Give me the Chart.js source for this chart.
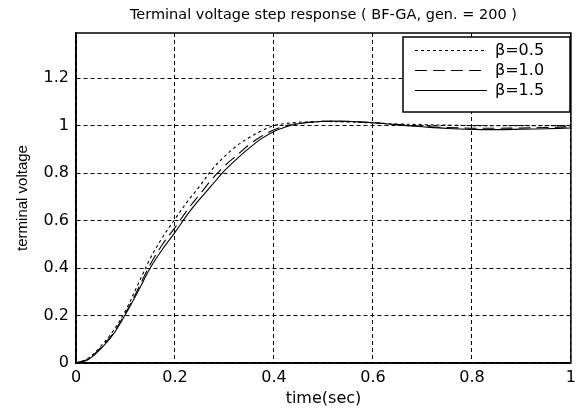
<!DOCTYPE html>
<html>
<head>
<meta charset="utf-8">
<script src="https://cdn.jsdelivr.net/npm/chart.js@4/dist/chart.umd.min.js"></script>
<style>
  html,body{margin:0;padding:0;background:#fff}
  #wrap{width:581px;height:412px}
</style>
</head>
<body>
<div id="wrap"><canvas id="c" width="581" height="412"></canvas></div>
<script>
'use strict';

// step response (time in sec)
const times = [0,0.025,0.05,0.075,0.1,0.125,0.15,0.175,0.2,0.225,0.25,0.275,0.3,0.325,0.35,0.375,0.4,0.425,0.45,0.5,0.55,0.6,0.65,0.7,0.75,0.8,0.85,0.9,0.95,1.0];
const beta05 = [0,0.02,0.07,0.135,0.22,0.33,0.44,0.53,0.606,0.68,0.745,0.815,0.87,0.915,0.95,0.978,1.0,1.009,1.014,1.017,1.015,1.011,1.007,1.004,1.002,1.0,1.0,1.0,1.0,1.0];
const beta10 = [0,0.017,0.065,0.125,0.21,0.31,0.415,0.5,0.57,0.645,0.71,0.775,0.83,0.875,0.92,0.955,0.982,1.0,1.01,1.018,1.017,1.012,1.004,0.997,0.992,0.989,0.989,0.99,0.992,0.995];
const beta15 = [0,0.015,0.06,0.12,0.205,0.3,0.4,0.48,0.55,0.625,0.69,0.75,0.81,0.86,0.905,0.945,0.975,0.995,1.008,1.018,1.018,1.012,1.003,0.995,0.988,0.984,0.983,0.985,0.987,0.99];
const seriesLabels = ['β=0.5','β=1.0','β=1.5'];
const xTicks = [0,0.2,0.4,0.6,0.8,1];
const yTicks = [0,0.2,0.4,0.6,0.8,1,1.2];
const titleText = 'Terminal voltage step response ( BF-GA, gen. = 200 )';

const FONT = '"DejaVu Sans", Verdana, sans-serif';
const FONT_NARROW = 'Arial, "Liberation Sans", Helvetica, sans-serif';
const dashes = [[3,3],[12,6],[]];

const pts = arr => arr.map((v,i)=>({x:times[i],y:v}));

// full frame, title over the axes and legend box like the MATLAB plot
const framePlugin = {
  id:'frame',
  afterDraw(chart){
    const {ctx, chartArea:a} = chart;
    ctx.save();
    ctx.strokeStyle='#000'; ctx.lineWidth=1.5; ctx.setLineDash([]);
    ctx.strokeRect(a.left, a.top, a.right-a.left, a.bottom-a.top);
    // title centred on the axes box
    ctx.fillStyle='#000'; ctx.font='14.5px '+FONT;
    ctx.textAlign='center'; ctx.textBaseline='middle';
    ctx.fillText(titleText, (a.left+a.right)/2, 15);
    // legend
    const lx=403, ly=37, lw=167, lh=75;
    ctx.fillStyle='#fff'; ctx.fillRect(lx,ly,lw,lh);
    ctx.lineWidth=1.5; ctx.strokeRect(lx,ly,lw,lh);
    ctx.font='16px '+FONT; ctx.fillStyle='#000'; ctx.textAlign='left';
    chart.data.datasets.forEach((ds,i)=>{
      const y = ly+13.5+i*20;
      ctx.lineWidth=1; ctx.setLineDash(ds.borderDash||[]);
      ctx.beginPath(); ctx.moveTo(lx+12,y); ctx.lineTo(lx+84,y); ctx.stroke();
      ctx.setLineDash([]);
      ctx.fillText(ds.label, lx+92, y+0.5);
    });
    ctx.restore();
  }
};

new Chart(document.getElementById('c'),{
  type:'line',
  data:{
    datasets:[beta05,beta10,beta15].map((d,i)=>({
      label:seriesLabels[i], data:pts(d),
      borderColor:'#000', borderWidth:1.1, borderDash:dashes[i],
      pointRadius:0, tension:0.35, fill:false
    }))
  },
  options:{
    responsive:false, animation:false,
    layout:{padding:{right:9,left:0,bottom:0,top:33}},
    plugins:{legend:{display:false}, tooltip:{enabled:false}, title:{display:false}},
    scales:{
      x:{type:'linear', min:0, max:1,
        afterBuildTicks:s=>{s.ticks=xTicks.map(v=>({value:v}));},
        afterFit:s=>{s.height=49;},
        grid:{color:'#000', lineWidth:1, drawTicks:false},
        border:{display:true,color:'#000',width:1.5,dash:[4,3]},
        ticks:{color:'#000', padding:5, font:{family:FONT,size:16}, callback:v=>String(+v.toFixed(1))},
        title:{display:true,text:'time(sec)',color:'#000',font:{family:FONT,size:16},padding:{top:0,bottom:4}}
      },
      y:{min:0, max:1.39,
        afterBuildTicks:s=>{s.ticks=yTicks.map(v=>({value:v}));},
        afterFit:s=>{s.width=76;},
        grid:{color:'#000', lineWidth:1, drawTicks:false},
        border:{display:true,color:'#000',width:1.5,dash:[4,3]},
        ticks:{color:'#000', padding:7, font:{family:FONT,size:16}, callback:v=>String(+v.toFixed(1))},
        title:{display:true,text:'terminal voltage',color:'#000',font:{family:FONT_NARROW,size:15},padding:{top:14,bottom:4}}
      }
    }
  },
  plugins:[framePlugin]
});
</script>
</body>
</html>
